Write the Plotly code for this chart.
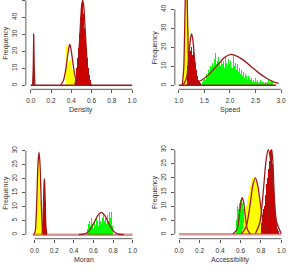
import plotly.graph_objects as go

# ---------------- DATA ----------------
# Panel 1: Density
p1_green_start, p1_green_w = 0.026, 0.008
p1_green = [31]
p1_redspike_start, p1_redspike_w = 0.025, 0.006
p1_redspike = [30]
p1_yellow_start, p1_yellow_w = 0.345, 0.005
p1_yellow = [8, 24, 14, 12, 16, 14, 17, 15, 13, 15, 12, 11, 10, 9, 8, 7, 6, 5, 4, 4, 3, 3, 2, 2, 1, 1]
p1_red_start, p1_red_w = 0.440, 0.005
p1_red = [3, 6, 10, 12, 16, 20, 22, 26, 30, 34, 40, 44, 48, 52, 50, 46, 42, 38, 34, 30, 26, 22, 19, 16, 13, 10, 8, 6, 4, 3, 2, 1]
p1_curves = [
    ([0.0, 0.018, 0.024, 0.029, 0.034, 0.040, 0.06], [0, 0, 10, 30, 10, 0, 0]),
    ([0.295, 0.32, 0.34, 0.355, 0.37, 0.385, 0.40, 0.415, 0.43, 0.45, 0.475], [0.3, 2.5, 7.5, 13.5, 20, 24, 20, 13.5, 7.5, 2.5, 0.3]),
    ([0.432, 0.452, 0.462, 0.472, 0.482, 0.492, 0.502, 0.512, 0.522, 0.532, 0.542, 0.552, 0.562, 0.572, 0.592], [0.6, 4, 9, 17, 27, 38, 47, 50, 47, 38, 27, 17, 9, 4, 0.6]),
]
p1_base = ([0.0, 1.0], [0, 0])

# Panel 2: Speed
p2_yellow_start, p2_yellow_w = 1.10, 0.01
p2_yellow = [8, 30, 50, 58, 60, 60, 55, 45, 30, 12]
p2_red_start, p2_red_w = 1.17, 0.01
p2_red = [10, 18, 22, 20, 24, 18, 25, 20, 22, 16, 23, 18, 24, 15, 20, 12, 14, 8, 10, 5, 6, 3, 4, 2, 2, 1, 1]
p2_green_start, p2_green_w = 1.45, 0.02
p2_green = [2, 3, 4, 3, 6, 5, 8, 7, 10, 9, 12, 10, 14, 17, 11, 13, 15, 12, 10, 14,
            11, 13, 9, 15, 12, 10, 14, 11, 13, 9, 16, 10, 12, 8, 11, 7, 9, 6, 8, 5,
            7, 4, 6, 5, 3, 5, 4, 3, 4, 2, 3, 2, 4, 2, 3, 1, 2, 3, 1, 2,
            2, 1, 2, 1, 2, 3, 1, 2, 3, 2]
p2_curves = [
    ([1.07, 1.095, 1.105, 1.12, 1.133, 1.145, 1.157, 1.17, 1.185, 1.195, 1.22], [0.6, 8, 16, 37, 53, 60, 53, 37, 16, 8, 0.6]),
    ([1.05, 1.10, 1.15, 1.175, 1.20, 1.225, 1.25, 1.275, 1.30, 1.325, 1.35, 1.40, 1.45], [0, 0.9, 3.7, 8.8, 16.4, 23.8, 27, 23.8, 16.4, 8.8, 3.7, 0.3, 0]),
    ([1.15, 1.3, 1.45, 1.6, 1.75, 1.9, 2.0, 2.1, 2.25, 2.4, 2.55, 2.7, 2.85, 2.95], [0.3, 1.0, 2.8, 6.0, 10.5, 14.8, 16.2, 15.8, 13.5, 10.2, 6.8, 4.0, 1.8, 1.0]),
]
p2_base = ([1.0, 2.9], [0, 0])

# Panel 3: Moran
p3_yellow_start, p3_yellow_w = 0.010, 0.01
p3_yellow = [8, 20, 29, 27, 20, 12, 6, 3]
p3_red_start, p3_red_w = 0.085, 0.005
p3_red = [3, 10, 18, 20, 17, 12, 6, 2]
p3_green_start, p3_green_w = 0.535, 0.01
p3_green = [2, 4, 5, 3, 6, 4, 2, 5, 3, 6, 5, 3, 7, 5, 4, 6, 7, 5, 6, 4, 7, 5, 8, 6, 8, 3]
p3_curves = [
    ([-0.01, 0.005, 0.015, 0.025, 0.035, 0.045, 0.055, 0.065, 0.075, 0.085, 0.10], [0, 1.0, 5.5, 15, 25.5, 29.5, 25.5, 15, 5.5, 1.0, 0]),
    ([0.076, 0.084, 0.088, 0.092, 0.096, 0.1, 0.104, 0.108, 0.112, 0.116, 0.124], [0.2, 2.7, 6.5, 12.1, 17.6, 20, 17.6, 12.1, 6.5, 2.7, 0.2]),
    ([0.45, 0.52, 0.55, 0.58, 0.61, 0.645, 0.68, 0.715, 0.75, 0.78, 0.81, 0.84, 0.91], [0, 0.4, 1.1, 2.5, 4.5, 6.9, 8, 6.9, 4.5, 2.5, 1.1, 0.4, 0]),
]
p3_base = ([-0.02, 1.0], [0, 0])

# Panel 4: Accessibility
p4_green_start, p4_green_w = 0.555, 0.01
p4_green = [5, 10, 9, 11, 12, 12, 11, 9, 6, 3]
p4_yellow_start, p4_yellow_w = 0.615, 0.01
p4_yellow = [2, 4, 6, 8, 10, 12, 14, 15, 17, 19, 20, 19, 20, 19, 18, 16, 14, 12, 10, 8, 6, 5, 4, 3, 2, 1]
p4_red_start, p4_red_w = 0.80, 0.01
p4_red = [4, 7, 9, 10, 14, 18, 20, 23, 26, 30, 29, 25, 18, 11, 7, 4, 2, 1]
p4_curves = [
    ([0.525, 0.567, 0.58, 0.592, 0.605, 0.617, 0.63, 0.642, 0.655, 0.667, 0.695], [0.1, 1.8, 4.2, 7.9, 11.5, 13, 11.5, 7.9, 4.2, 1.8, 0.1]),
    ([0.61, 0.655, 0.677, 0.70, 0.722, 0.745, 0.767, 0.79, 0.812, 0.835, 0.88], [0.2, 2.7, 6.5, 12.1, 17.6, 20, 17.6, 12.1, 6.5, 2.7, 0.2]),
    ([0.746, 0.788, 0.809, 0.83, 0.851, 0.872, 0.893, 0.914, 0.935, 0.956, 0.998], [0.3, 4, 9.8, 18.2, 26.5, 30, 26.5, 18.2, 9.8, 4, 0.3]),
    ([0.845, 0.865, 0.875, 0.885, 0.895, 0.905, 0.915, 0.925, 0.935, 0.945, 0.965], [0.3, 4, 9.8, 18.2, 26.5, 30, 26.5, 18.2, 9.8, 4, 0.3]),
]
p4_base = ([0.0, 1.0], [0, 0])

x_titles = ["Density", "Speed", "Moran", "Accessibility"]
y_title = "Frequency"
x_ticks = [[0, 0.2, 0.4, 0.6, 0.8, 1.0], [1.0, 1.5, 2.0, 2.5, 3.0], [0, 0.2, 0.4, 0.6, 0.8, 1.0], [0, 0.2, 0.4, 0.6, 0.8, 1.0]]
y_ticks = [[0, 10, 20, 30, 40, 50], [0, 10, 20, 30, 40], [0, 5, 10, 15, 20, 25, 30], [0, 5, 10, 15, 20, 25, 30]]

# ---------------- STYLE / LAYOUT ----------------
W, H = 299, 270
GREEN, YELLOW, RED = "#00FF00", "#FFFF00", "#CD0000"
CURVE = "#9E1A1A"
FONT = "Liberation Sans"
TXT = "#333333"

# pixel geometry per panel: (left, right, top, bottom), x map (v0,p0,v1,p1), y map (v0,p0,v1,p1)
panels = [
    dict(px=(25, 136.5, 0, 89.3), xm=(0, 30, 1, 132), ym=(0, 85.3, 50, 0.3)),
    dict(px=(175, 286.5, 0, 89.3), xm=(1, 179, 3, 282), ym=(0, 85.3, 40, 9.3)),
    dict(px=(25, 136.5, 141, 238.7), xm=(0, 33.8, 1, 132.5), ym=(0, 234.7, 30, 150.7)),
    dict(px=(175, 286.5, 141, 238.7), xm=(0, 179.3, 1, 282.3), ym=(0, 234.3, 30, 149.7)),
]

def inv(m, p):
    v0, p0, v1, p1 = m
    return v0 + (p - p0) * (v1 - v0) / (p1 - p0)

fig = go.Figure()

def add_bars(k, start, w, heights, color):
    xs = [start + w * (i + 0.5) for i in range(len(heights))]
    fig.add_trace(go.Bar(x=xs, y=heights, width=w, marker=dict(color=color, line=dict(width=0)),
                         xaxis=f"x{k if k > 1 else ''}", yaxis=f"y{k if k > 1 else ''}", showlegend=False))

def add_line(k, xy, color=CURVE, width=1.3, shape="spline"):
    fig.add_trace(go.Scatter(x=xy[0], y=xy[1], mode="lines", line=dict(color=color, width=width, shape=shape),
                             xaxis=f"x{k if k > 1 else ''}", yaxis=f"y{k if k > 1 else ''}", showlegend=False))

# panel 1
add_line(1, p1_base, width=1.6, shape="linear")
add_bars(1, p1_green_start, p1_green_w, p1_green, GREEN)
add_bars(1, p1_yellow_start, p1_yellow_w, p1_yellow, YELLOW)
add_bars(1, p1_red_start, p1_red_w, p1_red, RED)
add_bars(1, p1_redspike_start, p1_redspike_w, p1_redspike, "#A01010")
for i, c in enumerate(p1_curves):
    add_line(1, c, shape="linear" if i == 0 else "spline")

# panel 2
add_line(2, p2_base, width=1.6, shape="linear")
add_bars(2, p2_green_start, p2_green_w, p2_green, GREEN)
add_bars(2, p2_yellow_start, p2_yellow_w, p2_yellow, YELLOW)
add_bars(2, p2_red_start, p2_red_w, p2_red, RED)
for c in p2_curves:
    add_line(2, c)

# panel 3
add_line(3, p3_base, color="rgba(190,60,60,0.55)", width=2.5, shape="linear")
add_bars(3, p3_green_start, p3_green_w, p3_green, GREEN)
add_bars(3, p3_red_start, p3_red_w, p3_red, RED)
add_bars(3, p3_yellow_start, p3_yellow_w, p3_yellow, YELLOW)
for c in p3_curves:
    add_line(3, c)

# panel 4
add_line(4, p4_base, color="rgba(190,60,60,0.55)", width=2.5, shape="linear")
add_bars(4, p4_green_start, p4_green_w, p4_green, GREEN)
add_bars(4, p4_yellow_start, p4_yellow_w, p4_yellow, YELLOW)
add_bars(4, p4_red_start, p4_red_w, p4_red, RED)
for c in p4_curves:
    add_line(4, c)

layout = dict(width=W, height=H, margin=dict(l=0, r=0, t=0, b=0), paper_bgcolor="white", plot_bgcolor="white",
              barmode="overlay", bargap=0, font=dict(family=FONT, size=7, color=TXT), showlegend=False)
shapes, annotations = [], []
for k, p in enumerate(panels, start=1):
    L, R, T, B = p["px"]
    xr = [inv(p["xm"], L), inv(p["xm"], R)]
    yr = [inv(p["ym"], B), inv(p["ym"], T)]
    sfx = "" if k == 1 else str(k)
    xt = x_ticks[k - 1]
    yt = y_ticks[k - 1]
    layout[f"xaxis{sfx}"] = dict(domain=[L / W, R / W], range=xr, anchor=f"y{sfx}", showgrid=False, zeroline=False,
                                 showline=False, ticks="outside", ticklen=3, tickwidth=0.8, tickcolor="#333",
                                 tickvals=xt, ticktext=[f"{v:.1f}" for v in xt], ticklabelstandoff=2,
                                 tickfont=dict(family=FONT, size=6.5, color=TXT))
    layout[f"yaxis{sfx}"] = dict(domain=[1 - B / H, 1 - T / H], range=yr, anchor=f"x{sfx}", showgrid=False, zeroline=False,
                                 showline=False, ticks="outside", ticklen=3, tickwidth=0.8, tickcolor="#333",
                                 tickvals=yt, ticktext=[str(v) for v in yt], tickangle=-90, ticklabelstandoff=2,
                                 tickfont=dict(family=FONT, size=6.5, color=TXT))
    shapes.append(dict(type="line", xref=f"x{sfx}", yref=f"y{sfx} domain", x0=xt[0], x1=xt[-1], y0=0, y1=0,
                       line=dict(color="#333", width=0.8)))
    shapes.append(dict(type="line", xref=f"x{sfx} domain", yref=f"y{sfx}", x0=0, x1=0, y0=yt[0], y1=yt[-1],
                       line=dict(color="#333", width=0.8)))
    # axis titles
    xc = (p["xm"][1] + p["xm"][3]) / 2
    annotations.append(dict(text=x_titles[k - 1], xref="paper", yref="paper", x=xc / W, y=1 - (B + 21) / H,
                            showarrow=False, xanchor="center", yanchor="middle", font=dict(family=FONT, size=7, color=TXT)))
    yc = (p["ym"][1] + p["ym"][3]) / 2
    annotations.append(dict(text=y_title, xref="paper", yref="paper", x=(L - 20) / W, y=1 - yc / H, textangle=-90,
                            showarrow=False, xanchor="center", yanchor="middle", font=dict(family=FONT, size=7, color=TXT)))
layout["shapes"] = shapes
layout["annotations"] = annotations
fig.update_layout(**layout)
fig.write_html("out.html", config={"displayModeBar": False, "staticPlot": True},
               post_script="document.body.style.margin='0';document.body.style.overflow='hidden';")
